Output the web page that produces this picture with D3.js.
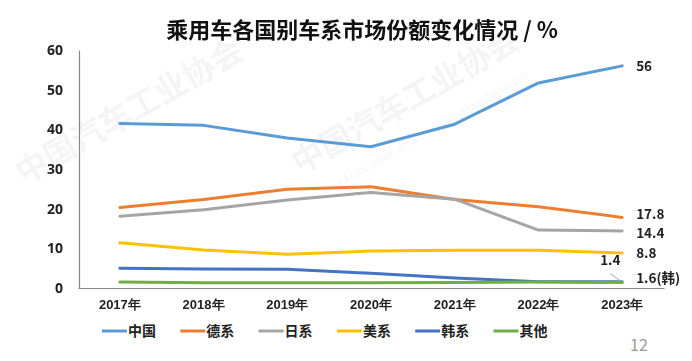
<!DOCTYPE html>
<html>
<head>
<meta charset="utf-8">
<script src="https://cdn.jsdelivr.net/npm/d3@7"></script>
<style>
  body { margin: 0; background: #fff; }
  svg { display: block; font-family: "Noto Sans CJK SC", "Noto Sans", sans-serif; }
</style>
</head>
<body>
<svg id="chart" width="692" height="361"></svg>
<script>
// chart data
var years = ['2017年', '2018年', '2019年', '2020年', '2021年', '2022年', '2023年'];
var yTicks = [0, 10, 20, 30, 40, 50, 60];
var seriesNames = ['中国', '德系', '日系', '美系', '韩系', '其他'];
var seriesColors = ['#5B9BD5', '#ED7D31', '#A5A5A5', '#FFC000', '#4472C4', '#70AD47'];
var china = [41.5, 41.0, 37.8, 35.6, 41.3, 51.7, 56];
var german = [20.3, 22.3, 24.9, 25.5, 22.3, 20.5, 17.8];
var japan = [18.1, 19.7, 22.2, 24.1, 22.4, 14.6, 14.4];
var usa = [11.4, 9.6, 8.5, 9.3, 9.5, 9.5, 8.8];
var korea = [5.0, 4.8, 4.7, 3.7, 2.5, 1.6, 1.6];
var others = [1.5, 1.3, 1.3, 1.3, 1.4, 1.5, 1.4];
var endLabels = ['56', '17.8', '14.4', '8.8', '1.6(韩)', '1.4'];

var allSeries = [china, german, japan, usa, korea, others];

var svg = d3.select('#chart');

// scales
var x = d3.scaleBand().domain(years).range([78, 664]);
var y = d3.scaleLinear().domain([0, 60]).range([288, 50]);
function cx(i) { return x(years[i]) + x.bandwidth() / 2; }

// faint watermark
var wm = svg.append('g').attr('fill', '#000').attr('opacity', 0.045)
  .attr('font-weight', 'bold');
wm.append('text').attr('transform', 'translate(24,185) rotate(-30)')
  .attr('font-size', 32).text('中国汽车工业协会');
wm.append('text').attr('transform', 'translate(300,175) rotate(-30)')
  .attr('font-size', 32).text('中国汽车工业协会');
wm.append('text').attr('transform', 'translate(318,200) rotate(-30)')
  .attr('font-size', 11).attr('font-weight', 'normal')
  .text('China Association of Automobile Manufacturers');

// title
svg.append('text')
  .attr('x', 362).attr('y', 38)
  .attr('text-anchor', 'middle')
  .attr('font-size', 22).attr('font-weight', 'bold')
  .attr('fill', '#111')
  .text('乘用车各国别车系市场份额变化情况 / %');

// axes
var yAxis = d3.axisLeft(y).tickValues(yTicks).tickSize(0).tickPadding(16);
var gy = svg.append('g').attr('transform', 'translate(79,0)').call(yAxis);
gy.select('.domain').attr('stroke', '#888').attr('stroke-width', 1.2);
gy.selectAll('text').attr('font-size', 14).attr('font-weight', 'bold')
  .attr('fill', '#222').attr('font-family', '"Open Sans", "Noto Sans", sans-serif');

var xAxis = d3.axisBottom(x).tickSize(0).tickPadding(12);
var gx = svg.append('g').attr('transform', 'translate(0,288)').call(xAxis);
gx.select('.domain').attr('stroke', '#888').attr('stroke-width', 1.2);
gx.selectAll('text').attr('font-size', 13).attr('font-weight', 'bold')
  .attr('fill', '#222');

// lines
var line = d3.line()
  .x(function(d, i) { return cx(i); })
  .y(function(d) { return y(d); });

svg.append('g').selectAll('path')
  .data(allSeries)
  .enter().append('path')
  .attr('d', line)
  .attr('fill', 'none')
  .attr('stroke', function(d, i) { return seriesColors[i]; })
  .attr('stroke-width', 3)
  .attr('stroke-linejoin', 'round')
  .attr('stroke-linecap', 'round');

// end labels
var lastX = cx(6);
var labelPos = [
  { dx: 14, dy: 5 },
  { dx: 14, dy: 2 },
  { dx: 14, dy: 7 },
  { dx: 14, dy: 5 },
  { dx: 14, dy: 1 },
  { dx: -22, dy: -17 }
];
svg.append('line')
  .attr('x1', lastX - 12).attr('y1', y(korea[6]) - 8)
  .attr('x2', lastX - 2).attr('y2', y(korea[6]) - 1)
  .attr('stroke', '#aaa').attr('stroke-width', 1);
svg.append('g').selectAll('text')
  .data(allSeries)
  .enter().append('text')
  .attr('x', function(d, i) { return lastX + labelPos[i].dx; })
  .attr('y', function(d, i) { return y(d[6]) + labelPos[i].dy; })
  .attr('font-size', 13.5).attr('font-weight', 'bold').attr('fill', '#222')
  .text(function(d, i) { return endLabels[i]; });

// legend
var legend = svg.append('g').selectAll('g')
  .data(seriesNames)
  .enter().append('g')
  .attr('transform', function(d, i) { return 'translate(' + (102 + i * 78.3) + ',331)'; });
legend.append('line')
  .attr('x1', 0).attr('x2', 25).attr('y1', 0).attr('y2', 0)
  .attr('stroke', function(d, i) { return seriesColors[i]; })
  .attr('stroke-width', 3);
legend.append('text')
  .attr('x', 26).attr('y', 5)
  .attr('font-size', 14).attr('font-weight', 'bold').attr('fill', '#222')
  .text(function(d) { return d; });

// page number
svg.append('text')
  .attr('x', 630).attr('y', 351)
  .attr('font-size', 16).attr('fill', '#999')
  .text('12');
</script>
</body>
</html>
